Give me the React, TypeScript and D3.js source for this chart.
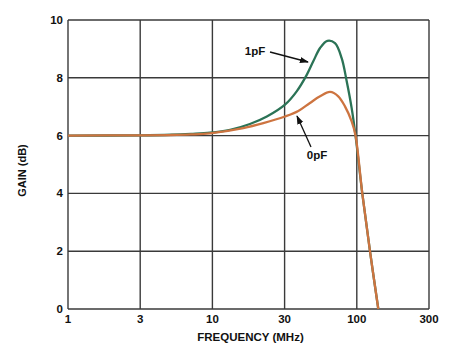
import React from "react";
import * as d3 from "d3";

// Frequency ticks (MHz) and gain ticks (dB)
const xTicks = [1, 3, 10, 30, 100, 300];
const yTicks = [0, 2, 4, 6, 8, 10];

// Frequency response with 1pF load capacitance: [MHz, dB]
const curve1pF: [number, number][] = [
  [1, 6.0], [3, 6.01], [5, 6.03], [7, 6.06], [9.6, 6.1], [13.1, 6.2],
  [17.7, 6.4], [22.9, 6.66], [30.2, 7.07], [36.7, 7.53], [43.4, 8.1],
  [48.4, 8.57], [54.2, 9.03], [61.2, 9.28], [69.5, 9.2], [77.7, 8.68],
  [84.5, 7.88], [91.8, 6.95], [97.9, 6.0], [108.7, 4.0], [122.2, 2.0],
  [138.7, 0.0], [145.6, -0.8],
];

// Frequency response with no load capacitance: [MHz, dB]
const curve0pF: [number, number][] = [
  [1, 6.0], [3, 6.01], [5, 6.02], [7, 6.04], [9.6, 6.08], [16.0, 6.26],
  [21.7, 6.43], [30.2, 6.66], [37.7, 6.85], [45.8, 7.13], [54.2, 7.36],
  [64.0, 7.51], [73.4, 7.36], [82.1, 7.01], [91.8, 6.49], [97.9, 6.0],
  [108.7, 4.0], [122.2, 2.0], [138.7, 0.0], [145.6, -0.8],
];

const W = 450;
const H = 351;
const left = 68;
const right = 429;
const top = 20;
const bottom = 309;

// Evenly spaced frequency gridlines, logarithmic between them
const x = d3
  .scaleLog()
  .domain(xTicks)
  .range(xTicks.map((_, i) => left + ((right - left) * i) / (xTicks.length - 1)));
const y = d3.scaleLinear().domain([0, 10]).range([bottom, top]);

const line = d3
  .line<[number, number]>()
  .x((d) => x(d[0]))
  .y((d) => y(d[1]))
  .curve(d3.curveCatmullRom.alpha(0.5));

const font = "'Liberation Sans', Arial, Helvetica, sans-serif";
const gridColor = "#3a3a3a";

export default function App() {
  return (
    <svg
      width={W}
      height={H}
      style={{ position: "absolute", left: 0, top: 0, background: "#fff" }}
      fontFamily={font}
      fontWeight="bold"
    >
      <defs>
        <clipPath id="plot">
          <rect x={left} y={top} width={right - left} height={bottom - top} />
        </clipPath>
        <marker
          id="arrow"
          viewBox="0 0 10 10"
          refX="9"
          refY="5"
          markerWidth="9"
          markerHeight="9"
          markerUnits="userSpaceOnUse"
          orient="auto"
        >
          <path d="M0,1.5 L10,5 L0,8.5 Z" fill="#111" />
        </marker>
      </defs>

      {/* grid */}
      {xTicks.map((t) => (
        <line key={"gx" + t} x1={x(t)} x2={x(t)} y1={top} y2={bottom} stroke={gridColor} strokeWidth={1.4} />
      ))}
      {yTicks.map((t) => (
        <line key={"gy" + t} x1={left} x2={right} y1={y(t)} y2={y(t)} stroke={gridColor} strokeWidth={1.4} />
      ))}

      {/* curves */}
      <g clipPath="url(#plot)" fill="none" strokeWidth={2.3} strokeLinejoin="round">
        <path d={line(curve1pF) || ""} stroke="#2b7356" />
        <path d={line(curve0pF) || ""} stroke="#cd7440" />
      </g>

      {/* tick labels */}
      {yTicks.map((t) => (
        <text key={"ly" + t} x={63} y={y(t)} dy="0.35em" textAnchor="end" fontSize={11.5} fill="#111">
          {t}
        </text>
      ))}
      {xTicks.map((t) => (
        <text key={"lx" + t} x={x(t)} y={323} textAnchor="middle" fontSize={11.5} fill="#111">
          {t}
        </text>
      ))}

      {/* axis titles */}
      <text x={(left + right) / 2 + 2} y={341} textAnchor="middle" fontSize={11.5} fill="#111">
        FREQUENCY (MHz)
      </text>
      <text
        transform={`translate(26,${(top + bottom) / 2 + 6}) rotate(-90)`}
        textAnchor="middle"
        fontSize={11}
        fill="#111"
      >
        GAIN (dB)
      </text>

      {/* annotations */}
      <text x={255} y={55} textAnchor="middle" fontSize={11.5} fill="#111">1pF</text>
      <line x1={270} y1={52} x2={308} y2={62} stroke="#111" strokeWidth={1.3} markerEnd="url(#arrow)" />
      <text x={317} y={159} textAnchor="middle" fontSize={11.5} fill="#111">0pF</text>
      <line x1={311} y1={147} x2={297} y2={116} stroke="#111" strokeWidth={1.3} markerEnd="url(#arrow)" />
    </svg>
  );
}
